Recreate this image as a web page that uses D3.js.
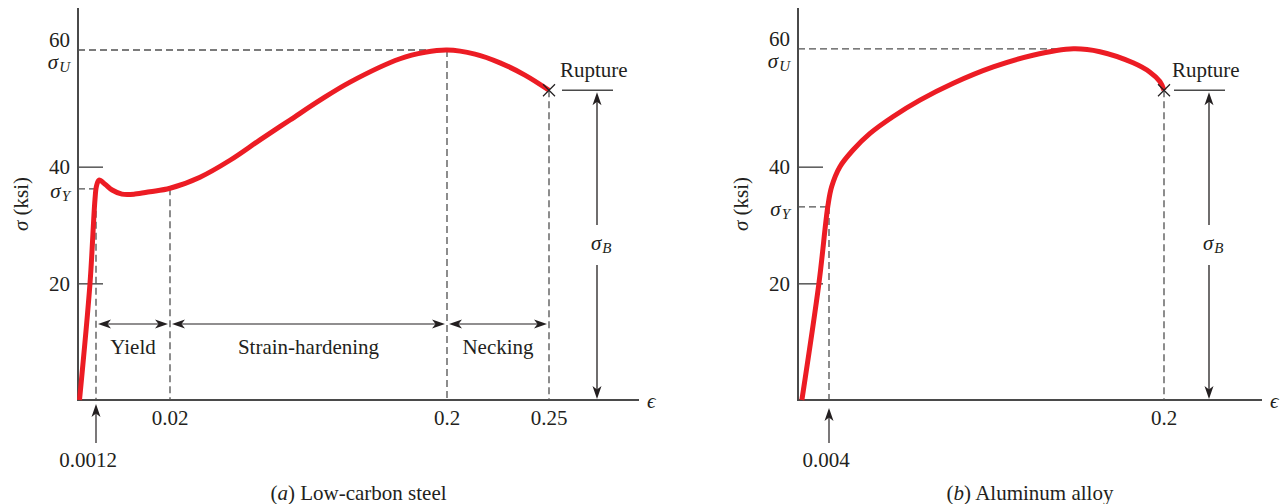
<!DOCTYPE html>
<html>
<head>
<meta charset="utf-8">
<script src="https://cdn.jsdelivr.net/npm/d3@7"></script>
<style>
  html, body { margin: 0; padding: 0; background: #fff; }
  svg { display: block; }
</style>
</head>
<body>
<svg id="chart" width="1283" height="504"></svg>
<script>
// ---- Data: engineering stress (ksi) against strain ----
const steelStrain = [0.0001, 0.0008, 0.00113, 0.00133, 0.00196, 0.0035, 0.0053, 0.0078, 0.0111, 0.0149, 0.02,
                     0.0395, 0.059, 0.0785, 0.098, 0.1175, 0.137, 0.1695, 0.1857, 0.2, 0.2137, 0.226, 0.2382, 0.25];
const steelStress = [0, 20, 34.3, 36.7, 37.7, 37.0, 36.0, 35.3, 35.3, 35.7, 36.3,
                     38.2, 41.1, 44.6, 48.0, 51.4, 54.5, 58.5, 59.6, 60.0, 59.3, 57.8, 55.7, 53.1];

const alloyStrain = [0.0005, 0.0027, 0.00387, 0.00558, 0.0104, 0.0182, 0.028, 0.0416, 0.0572,
                     0.0767, 0.1001, 0.1233, 0.147, 0.1625, 0.1819, 0.1918, 0.1976, 0.2];
const alloyStress = [0, 20, 33.4, 36.6, 40.0, 42.9, 45.7, 48.6, 51.4,
                     54.3, 57.1, 59.1, 60.2, 59.7, 57.8, 56.2, 54.6, 53.1];

// Strain breakpoints of the (non-uniform) strain axes
const steelKnots = [0, 0.0012, 0.02, 0.2, 0.25];
const alloyKnots = [0, 0.004, 0.2];

// Yield point [strain, stress]
const steelYield = [0.0012, 36.2];
const alloyYield = [0.004, 33.1];

// Axis labels
const stressTicks = [20, 40];
const stressTopLabel = "60";
const steelStrainTicks = [0.02, 0.2, 0.25];
const steelStrainLabels = ["0.02", "0.2", "0.25"];
const alloyStrainTicks = [0.2];
const alloyStrainLabels = ["0.2"];
const steelYieldLabel = "0.0012";
const alloyYieldLabel = "0.004";

// Deformation stages of the steel specimen
const steelRegions = ["Yield", "Strain-hardening", "Necking"];
const steelRegionBounds = [0.0012, 0.02, 0.2, 0.25];

// ---- Drawing ----
const FONT = "'Liberation Serif','Times New Roman',Times,serif";
const INK = "#231f20", AXIS = "#4a4a4a", DASH = "#505050", RED = "#ec1c24";
const FS = 21;

const svg = d3.select("#chart").attr("font-family", FONT);
const y = d3.scaleLinear().domain([0, 60]).range([400, 50]);

function head(g, x, yy, deg) {
  g.append("path")
    .attr("d", "M0,0L-13,-4.5L-9.5,0L-13,4.5Z")
    .attr("transform", `translate(${x},${yy}) rotate(${deg})`)
    .attr("fill", INK);
}

function sigma(t, sub) {
  t.append("tspan").attr("font-style", "italic").text("σ");
  if (sub) t.append("tspan").attr("font-style", "italic").attr("font-size", 15)
            .attr("dx", 1).attr("dy", 5).text(sub);
}

function label(g, x, yy, txt, anchor) {
  return g.append("text").attr("x", x).attr("y", yy)
    .attr("text-anchor", anchor || "middle").attr("dominant-baseline", "central")
    .attr("font-size", FS).attr("fill", INK).text(txt);
}

function dashed(g, x1, y1, x2, y2) {
  g.append("line").attr("x1", x1).attr("y1", y1).attr("x2", x2).attr("y2", y2)
    .attr("stroke", DASH).attr("stroke-width", 1.3).attr("stroke-dasharray", "7,4");
}

function drawPanel(p) {
  const g = svg.append("g");
  const x = d3.scaleLinear().domain(p.knots).range(p.range);
  const x0 = x(0), yb = y(0);
  const pts = p.strain.map((s, i) => [s, p.stress[i]]);
  const peak = pts.reduce((a, b) => (b[1] > a[1] ? b : a));
  const rupture = pts[pts.length - 1];

  // axes
  g.append("line").attr("x1", x0).attr("x2", x0).attr("y1", yb + 1).attr("y2", 8)
    .attr("stroke", AXIS).attr("stroke-width", 2);
  g.append("line").attr("x1", x0 - 1).attr("x2", p.axisEnd).attr("y1", yb).attr("y2", yb)
    .attr("stroke", AXIS).attr("stroke-width", 2);
  g.append("text").attr("x", p.axisEnd + 8).attr("y", yb + 1).attr("dominant-baseline", "central")
    .attr("font-size", FS).attr("font-style", "italic").attr("fill", INK).text("ϵ");

  // stress ticks (drawn inward)
  const ax = g.append("g").attr("transform", `translate(${x0},0)`)
    .call(d3.axisLeft(y).tickValues(stressTicks).tickSize(-25).tickPadding(8));
  ax.select(".domain").remove();
  ax.attr("font-family", FONT).attr("font-size", FS).attr("color", AXIS);
  ax.selectAll("line").attr("stroke-width", 1.4);
  ax.selectAll("text").attr("fill", INK).attr("dy", null).attr("dominant-baseline", "central");

  label(g, x0 - 8, y(peak[1]) - 10, stressTopLabel, "end");
  sigma(label(g, x0 - 8, y(peak[1]) + 12, "", "end"), "U");
  sigma(label(g, x0 - 8, y(p.yield[1]) + 2, "", "end"), "Y");

  // y title
  const yt = g.append("text")
    .attr("transform", `translate(${x0 - 57},204) rotate(-90)`)
    .attr("text-anchor", "middle").attr("dominant-baseline", "central")
    .attr("font-size", FS).attr("fill", INK);
  yt.append("tspan").attr("font-style", "italic").text("σ");
  yt.append("tspan").text(" (ksi)");

  // guide lines
  dashed(g, x0, y(p.yield[1]), x(p.yield[0]), y(p.yield[1]));
  dashed(g, x(p.yield[0]), y(p.yield[1]), x(p.yield[0]), yb);
  dashed(g, x0, y(peak[1]), x(peak[0]), y(peak[1]));
  p.drops.forEach(s => {
    const pt = pts.find(d => Math.abs(d[0] - s) < 1e-9);
    dashed(g, x(s), y(pt[1]), x(s), yb);
  });

  // strain labels
  p.ticks.forEach((s, i) => label(g, x(s), yb + 18, p.tickLabels[i]));
  const xy = x(p.yield[0]);
  g.append("line").attr("x1", xy).attr("x2", xy).attr("y1", yb + 43).attr("y2", yb + p.yArrowGap + 6)
    .attr("stroke", INK).attr("stroke-width", 1.2);
  head(g, xy, yb + p.yArrowGap, -90);
  label(g, xy + p.yLabelShift, yb + 60, p.yieldLabel);

  // curve
  g.append("path").datum(pts)
    .attr("d", d3.line().x(d => x(d[0])).y(d => y(d[1])).curve(d3.curveCatmullRom.alpha(0.5)))
    .attr("fill", "none").attr("stroke", RED).attr("stroke-width", 5)
    .attr("stroke-linejoin", "round").attr("stroke-linecap", "butt");

  // rupture marker
  const rx = x(rupture[0]), ry = y(rupture[1]);
  g.append("path").attr("d", `M${rx - 6},${ry - 6}L${rx + 6},${ry + 6}M${rx - 6},${ry + 6}L${rx + 6},${ry - 6}`)
    .attr("stroke", INK).attr("stroke-width", 1.2);
  g.append("text").attr("x", rx + p.ruptOff).attr("y", ry - 13)
    .attr("font-size", FS).attr("fill", INK).text("Rupture");
  g.append("line").attr("x1", rx + p.ruptOff + 2).attr("x2", rx + p.ruptOff + 53).attr("y1", ry).attr("y2", ry)
    .attr("stroke", AXIS).attr("stroke-width", 1.4);

  // breaking-stress dimension arrow
  const bx = rx + p.ruptOff + 37;
  g.append("line").attr("x1", bx).attr("x2", bx).attr("y1", ry + 8).attr("y2", 225)
    .attr("stroke", INK).attr("stroke-width", 1.3);
  g.append("line").attr("x1", bx).attr("x2", bx).attr("y1", 265).attr("y2", yb - 8)
    .attr("stroke", INK).attr("stroke-width", 1.3);
  head(g, bx, ry + 2, -90);
  head(g, bx, yb - 1, 90);
  sigma(label(g, bx - 6, 243, "", "start"), "B");

  // caption
  const cap = g.append("text").attr("x", (x0 + p.axisEnd) / 2).attr("y", 493)
    .attr("text-anchor", "middle").attr("dominant-baseline", "central")
    .attr("font-size", FS).attr("fill", INK);
  cap.append("tspan").text("(");
  cap.append("tspan").attr("font-style", "italic").text(p.tag);
  cap.append("tspan").text(") " + p.title);

  return x;
}

const xs = drawPanel({
  strain: steelStrain, stress: steelStress, knots: steelKnots,
  range: [78, 96, 170, 447, 549], axisEnd: 639,
  yield: steelYield, drops: [0.02, 0.2, 0.25],
  ticks: steelStrainTicks, tickLabels: steelStrainLabels,
  yieldLabel: steelYieldLabel, yLabelShift: -8, yArrowGap: 4,
  ruptOff: 11, tag: "a", title: "Low-carbon steel"
});

drawPanel({
  strain: alloyStrain, stress: alloyStress, knots: alloyKnots,
  range: [798, 829, 1164], axisEnd: 1262,
  yield: alloyYield, drops: [0.2],
  ticks: alloyStrainTicks, tickLabels: alloyStrainLabels,
  yieldLabel: alloyYieldLabel, yLabelShift: -3, yArrowGap: 8,
  ruptOff: 8, tag: "b", title: "Aluminum alloy"
});

// Stage arrows for steel
const stage = svg.append("g");
steelRegions.forEach((name, i) => {
  const a = xs(steelRegionBounds[i]) + 2, b = xs(steelRegionBounds[i + 1]) - 2;
  stage.append("line").attr("x1", a + 8).attr("x2", b - 8).attr("y1", 324).attr("y2", 324)
    .attr("stroke", INK).attr("stroke-width", 1.2);
  head(stage, a, 324, 180);
  head(stage, b, 324, 0);
  label(stage, (a + b) / 2, 347, name);
});
</script>
</body>
</html>
